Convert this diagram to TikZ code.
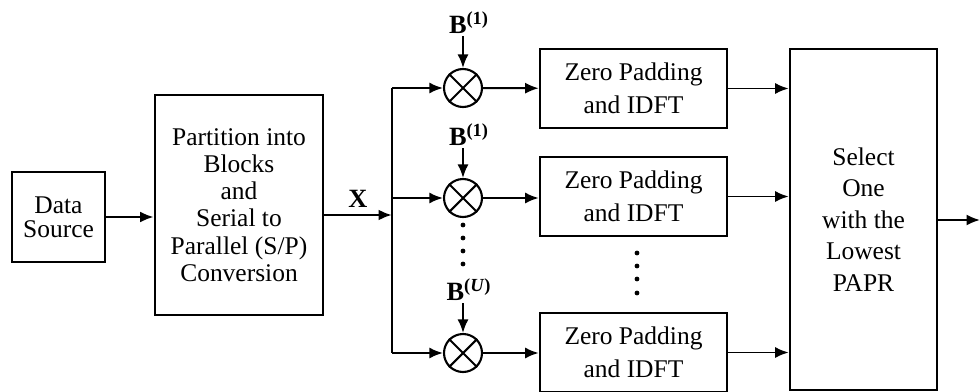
\documentclass[tikz,border=0pt]{standalone}
\usepackage{fontspec}
\setmainfont{Liberation Serif}
\usetikzlibrary{arrows.meta,positioning,calc}
\tikzset{
  >={Latex[length=2.7mm,width=2.2mm]},
  block/.style={rectangle, draw=black, line width=1.5pt, align=center,
    inner sep=2pt, font=\fontsize{14.5}{16}\selectfont},
  mixer/.style={circle, draw=black, line width=1.2pt,
    minimum size=0.76cm, inner sep=0pt},
  flow/.style={draw, ->, line width=1.5pt},
  smallflow/.style={draw, ->, line width=1.1pt},
  bus/.style={draw, line width=1.5pt},
  seqlabel/.style={inner sep=1pt, font=\fontsize{15}{16}\selectfont\bfseries}
}

\begin{document}
\begin{tikzpicture}[x=0.02cm, y=-0.02cm]

\useasboundingbox (0,0) rectangle (980,392);

% left part
\node[block, minimum width=1.86cm, minimum height=1.8cm,
  font=\fontsize{14.5}{13.5}\selectfont] (source) at (58.5,217) {Data\\Source};

\node[block, minimum width=3.36cm, minimum height=4.4cm,
  font=\fontsize{14.5}{15.5}\selectfont] (partition) at (239,205) {
Partition into\\Blocks\\and\\Serial to\\Parallel (S/P)\\Conversion};

\coordinate (xin) at (392,215);
\coordinate (bustop) at (392,88);
\coordinate (busbot) at (392,353);
\node[seqlabel] (xlabel) at (358,199) {X};

% phase sequences
\node[mixer] (mix1) at (463,88) {};
\node[mixer] (mix2) at (463,198) {};
\node[mixer] (mix3) at (463,353) {};

\node[seqlabel] (seq1) at (469,23) {B\textsuperscript{(1)}};
\node[seqlabel] (seq2) at (469,135) {B\textsuperscript{(1)}};
\node[seqlabel] (seq3) at (469,290) {B\textsuperscript{(\textit{U})}};

% IDFT blocks
\node[block, minimum width=3.74cm, minimum height=1.58cm,
  font=\fontsize{14.5}{19}\selectfont] (idft1) at (633.5,88.5) {Zero Padding\\and IDFT};
\node[block, minimum width=3.74cm, minimum height=1.58cm,
  font=\fontsize{14.5}{19}\selectfont] (idft2) at (633.5,196.5) {Zero Padding\\and IDFT};
\node[block, minimum width=3.74cm, minimum height=1.58cm,
  font=\fontsize{14.5}{19}\selectfont] (idft3) at (633.5,352.5) {Zero Padding\\and IDFT};

\node[block, minimum width=2.94cm, minimum height=6.82cm,
  font=\fontsize{14.5}{18}\selectfont] (select) at (863.5,219.5) {
Select\\One\\with the\\Lowest\\PAPR};
\coordinate (out) at (980,220);

\foreach \m in {mix1,mix2,mix3}
  \draw[line width=1.2pt] (\m.north west) -- (\m.south east)
                          (\m.north east) -- (\m.south west);

% dots
\foreach \y in {225,238,251,264}
  \fill (463,\y) circle (2.4);
\foreach \y in {253,266,279,293}
  \fill (637,\y) circle (2.4);

\draw[flow]      (source.east) -- (source.east -| partition.west);
\draw[flow]      (xin -| partition.east) -- (xin);
\draw[bus]       (bustop) -- (busbot);
\draw[smallflow] (bustop) -- (mix1);
\draw[smallflow] (bustop |- mix2) -- (mix2);
\draw[smallflow] (busbot) -- (mix3);
\draw[smallflow] (seq1.south -| mix1) -- (mix1);
\draw[smallflow] (seq2.south -| mix2) -- (mix2);
\draw[smallflow] (seq3.south -| mix3) -- (mix3);
\draw[smallflow] (mix1) -- (idft1);
\draw[smallflow] (mix2) -- (mix2 -| idft2.west);
\draw[smallflow] (mix3) -- (mix3 -| idft3.west);
\draw[smallflow] (idft1) -- (idft1 -| select.west);
\draw[smallflow] (idft2) -- (idft2 -| select.west);
\draw[smallflow] (idft3) -- (idft3 -| select.west);
\draw[smallflow] (select.east |- out) -- (out);

\end{tikzpicture}
\end{document}
